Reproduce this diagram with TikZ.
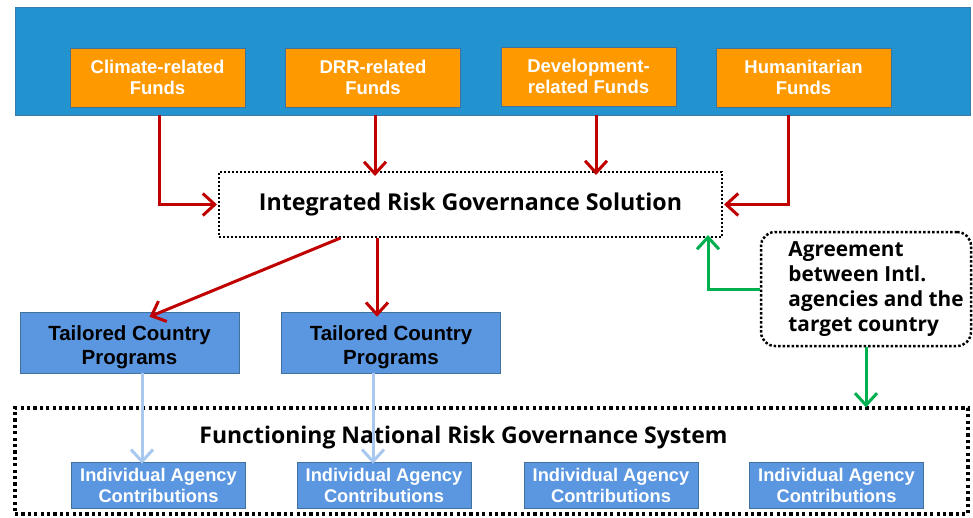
\documentclass[tikz,border=0pt]{standalone}
\usepackage{fontspec}
\setmainfont{Liberation Sans}
\newfontfamily\uifont{Open Sans}
\usetikzlibrary{arrows.meta}
\definecolor{bandblue}{HTML}{2293CF}
\definecolor{fundorange}{HTML}{FF9900}
\definecolor{progblue}{HTML}{5B96E0}
\definecolor{edgeblue}{HTML}{41719C}
\definecolor{flowred}{HTML}{C00000}
\definecolor{flowgreen}{HTML}{00B050}
\definecolor{paleblue}{HTML}{A9C8F0}
\tikzset{
  fundbox/.style={rectangle, fill=fundorange, draw=edgeblue, line width=0.6pt,
    minimum width=175, minimum height=59, align=center, text=white,
    font=\fontsize{18.5}{21}\selectfont\bfseries, inner sep=0pt},
  progbox/.style={rectangle, fill=progblue, draw=edgeblue, line width=0.6pt,
    minimum width=219, minimum height=61, align=center, text=black,
    font=\fontsize{20.5}{24}\selectfont\bfseries, inner sep=0pt},
  agencybox/.style={rectangle, fill=progblue, draw=edgeblue, line width=0.6pt,
    minimum width=174, minimum height=46, align=center, text=white,
    font=\fontsize{18.3}{21}\selectfont\bfseries, inner sep=0pt},
  flowtip/.style={-{Straight Barb[length=12pt,width=22pt,line width=3pt]}},
  redflow/.style={draw=flowred, line width=3pt, flowtip},
  greenflow/.style={draw=flowgreen, line width=3pt, flowtip},
  paleflow/.style={draw=paleblue, line width=3pt, flowtip},
}
\begin{document}
\begin{tikzpicture}[x=1pt, y=-1pt]
\useasboundingbox (0,0) rectangle (973,517);

% funding sources band
\node[rectangle, fill=bandblue, draw=edgeblue!70!bandblue, line width=0.8pt,
  minimum width=955, minimum height=108, inner sep=0pt] (band) at (492.5,61) {};
\node[fundbox] (climate) at (157.5,77.5) {Climate-related\\Funds};
\node[fundbox] (drr) at (373,77.5) {DRR-related\\Funds};
\node[fundbox] (dev) at (588.5,76.5) {Development-\\related Funds};
\node[fundbox] (hum) at (803.5,77.5) {Humanitarian\\Funds};

% integrated solution
\node[rectangle, draw=black, line width=2pt, dotted, minimum width=503, minimum height=65,
  font=\uifont\fontsize{23.2}{27}\selectfont\bfseries, inner sep=0pt] (integrated) at (470.5,204.5)
  {Integrated Risk Governance Solution};

% agreement (lines indented so the block sits right of centre)
\node[rectangle, rounded corners=14pt, draw=black, line width=2.5pt, dotted,
  minimum width=210, minimum height=114, align=left, inner sep=0pt,
  font=\uifont\fontsize{20.8}{25}\selectfont\bfseries] (agree) at (866,289)
  {\hspace*{20pt}Agreement\\\hspace*{20pt}between Intl.\\\hspace*{20pt}agencies and the\\\hspace*{20pt}target country};

% country programs (strut lowers the text a little)
\node[progbox] (t1) at (129.5,342.5) {\rule{0pt}{25pt}Tailored Country\\Programs};
\node[progbox] (t2) at (391,342.5) {\rule{0pt}{25pt}Tailored Country\\Programs};

% national system
\node[rectangle, draw=black, line width=3.2pt, dash pattern=on 3.2pt off 3.2pt,
  minimum width=953, minimum height=106, inner sep=0pt] (system) at (491.5,461) {};
\node[font=\uifont\fontsize{23}{27}\selectfont\bfseries, inner sep=0pt] (systitle) at (463.5,438)
  {Functioning National Risk Governance System};
\node[agencybox] (ia1) at (158.5,485) {Individual Agency\\Contributions};
\node[agencybox] (ia2) at (384,485) {Individual Agency\\Contributions};
\node[agencybox] (ia3) at (611,485) {Individual Agency\\Contributions};
\node[agencybox] (ia4) at (836.5,485) {Individual Agency\\Contributions};

% funding flows
\draw[redflow] ([xshift=1.5]climate.south |- band.south) |- ([xshift=-1]integrated.west);
\draw[redflow] ([xshift=2]drr.south |- band.south) -- ([xshift=2,yshift=-5]drr.south |- integrated.north);
\draw[redflow] ([xshift=7.5]dev.south |- band.south) -- ([xshift=7.5,yshift=-4]dev.south |- integrated.north);
\draw[redflow] ([xshift=-15.5]hum.south |- band.south) |- ([xshift=1]integrated.east);

% solution to programs
\draw[redflow] ([xshift=-130]integrated.south) -- ([xshift=20,yshift=-5]t1.north);
\draw[redflow] ([xshift=-93.5]integrated.south) -- ([xshift=-93.5,yshift=-5]integrated.south |- t2.north);

% agreement links
\draw[greenflow] (agree.west) -| ([xshift=237.5,yshift=3]integrated.south);
\draw[greenflow] (agree.south) -- ([yshift=-1]agree.south |- system.north);

% programs to agency contributions
\draw[paleflow] ([xshift=12.5]t1.south) -- ([xshift=12.5,yshift=-2]t1.south |- ia1.north);
\draw[paleflow] ([xshift=-18]t2.south) -- ([xshift=-18,yshift=-2]t2.south |- ia2.north);
\end{tikzpicture}
\end{document}
